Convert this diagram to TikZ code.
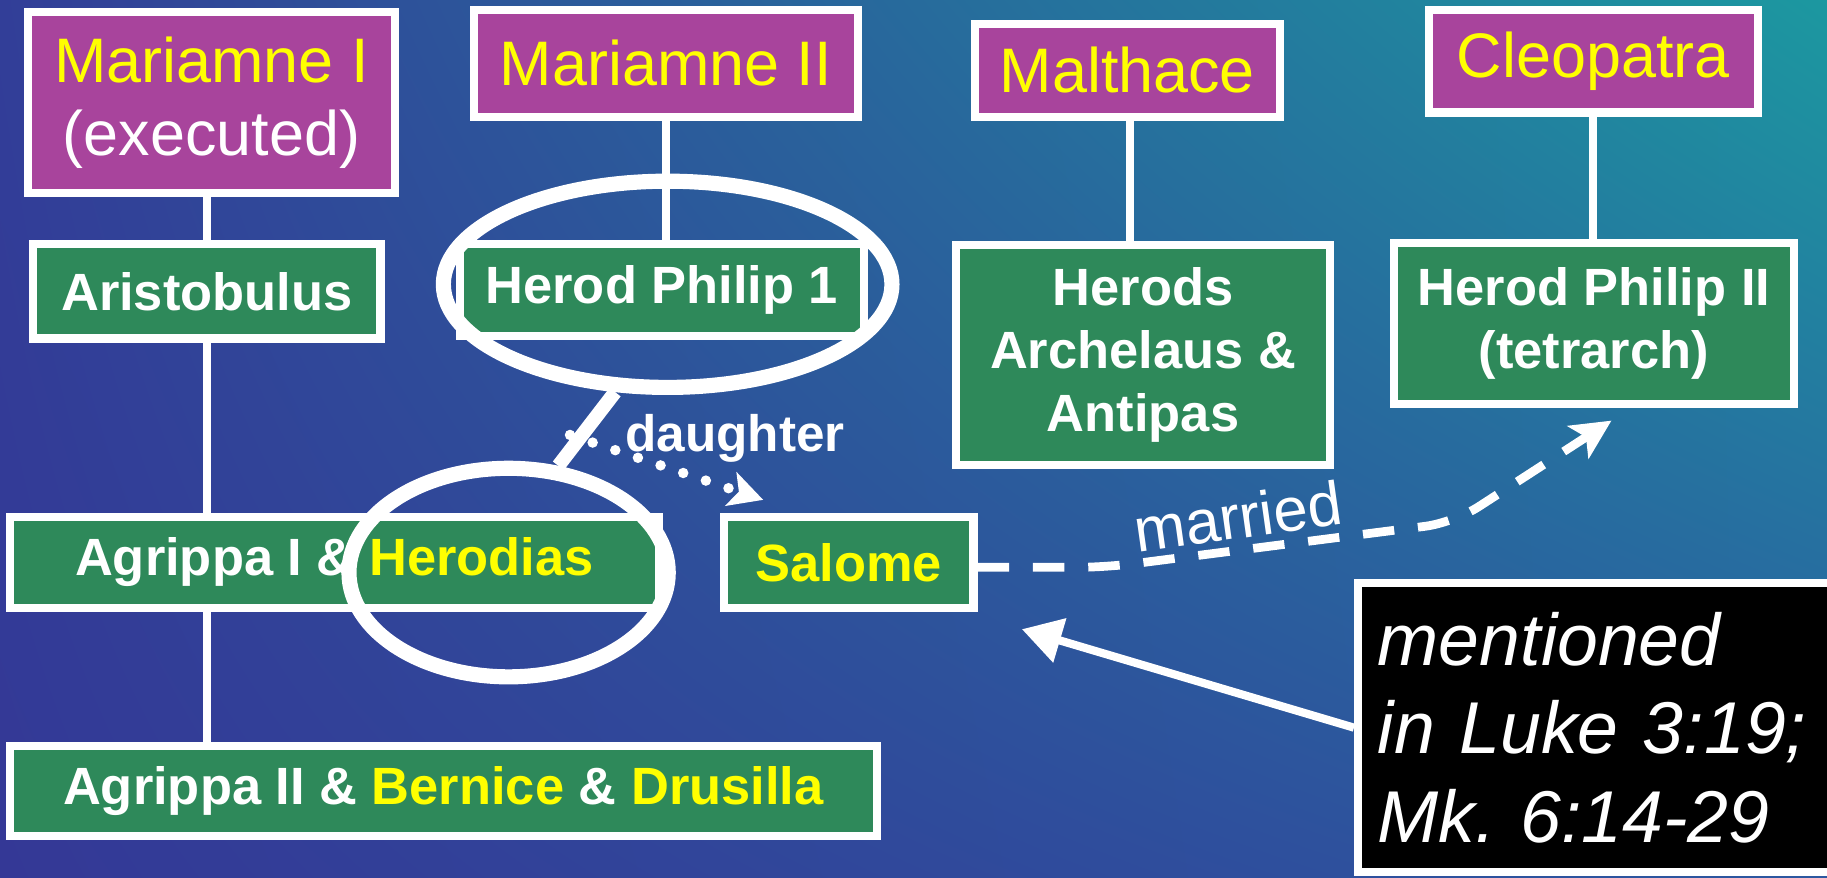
\documentclass[tikz,border=0pt]{standalone}
\usepackage{fontspec}
\setmainfont{Liberation Sans}
\usetikzlibrary{arrows.meta,shapes.geometric,shadings}
\definecolor{bgUL}{RGB}{50,62,152}
\definecolor{bgUR}{RGB}{28,152,160}
\definecolor{bgLL}{RGB}{52,56,150}
\definecolor{bgLR}{RGB}{44,88,160}
\definecolor{magbox}{RGB}{168,68,156}
\definecolor{grnbox}{RGB}{46,137,90}
\definecolor{yel}{RGB}{255,255,0}
\begin{document}
\begin{tikzpicture}[x=1pt,y=1pt,
 wife/.style={draw=white, line width=7pt, fill=magbox, inner sep=0pt, text=yel, align=center, font=\fontsize{54}{63}\selectfont},
 kid/.style={draw=white, line width=7pt, fill=grnbox, inner sep=0pt, text=white, align=center, font=\fontsize{45}{54}\selectfont\bfseries},
 link/.style={white, line width=7pt},
 ring/.style={ellipse, draw=white, line width=13pt, inner sep=0pt},
]
\useasboundingbox (0,0) rectangle (1568,753);
\shade[shading=bilinear interpolation, upper left=bgUL, upper right=bgUR, lower left=bgLL, lower right=bgLR] (0,0) rectangle (1568,753);

% wives
\node[wife, minimum width=315pt, minimum height=155pt] (m1) at (181.5,665) {Mariamne I\\{\color{white}(executed)}};
\node[wife, minimum width=330pt, minimum height=92pt] (m2) at (571.5,698.5) {Mariamne II};
\node[wife, minimum width=262pt, minimum height=80pt] (mal) at (967.5,692.5) {Malthace};
\node[wife, minimum width=282pt, minimum height=88pt] (cleo) at (1367.5,700.5) {Cleopatra};

% children
\node[kid, minimum width=298pt, minimum height=81pt] (arist) at (177.5,503) {Aristobulus};
\node[kid, minimum width=347pt, minimum height=79pt] (hp1) at (568,504) {Herod Philip 1};
\node[kid, minimum width=321pt, minimum height=189pt] (herods) at (981,448.5) {Herods\\Archelaus \&\\Antipas};
\node[kid, minimum width=343pt, minimum height=138pt] (hp2) at (1368,475.5) {Herod Philip II\\(tetrarch)};
\node[kid, minimum width=557pt, minimum height=77.5pt] (ah) at (287,270.25) {Agrippa I \& {\color{yel}Herodias}};
\node[kid, minimum width=214pt, minimum height=77.5pt, text=yel] (sal) at (728.5,270.25) {Salome};
\node[kid, minimum width=744pt, minimum height=77.5pt] (a2) at (380.5,74.25) {Agrippa II \& {\color{yel}Bernice} \& {\color{yel}Drusilla}};

% note box
\node[draw=white, line width=7pt, fill=black, text=white, minimum width=431pt, minimum height=248pt,
      inner xsep=17pt, inner ysep=0pt, text width=397pt, align=left,
      font=\fontsize{63}{76}\selectfont\itshape\frenchspacing] (black) at (1381,128.5) {mentioned\\in Luke 3:19;\\Mk. 6:14-29};

% descent lines
\draw[link] (arist.north |- m1.south) -- (arist.north);
\draw[link] (arist.south) -- (arist.south |- ah.north);
\draw[link] (arist.south |- ah.south) -- (arist.south |- a2.north);
\draw[link] (m2.south) -- (m2.south |- hp1.north);
\draw[link] (970,0 |- mal.south) -- (970,0 |- herods.north);
\draw[link] (cleo.south) -- (cleo.south |- hp2.north);

% rings
\node[ring, minimum width=385pt, minimum height=177pt] (e1) at (573,509) {};
\node[ring, minimum width=274pt, minimum height=179pt] (e2) at (436.5,261.6) {};
\draw[white, line width=12pt] (e1.-116) -- (e2.65);

% daughter
\coordinate (dS) at (489.2,379.7);
\coordinate (dT) at (655,324);
\draw[white, line width=9pt, line cap=round, dash pattern=on 0pt off 20.5pt, -{Stealth[length=29pt,width=30pt,inset=7pt]}] (dS) -- (dT);
\node[anchor=base, text=white, font=\fontsize{44}{44}\selectfont\bfseries, inner sep=0pt] (dl) at (630.8,365.4) {daughter};

% married
\coordinate (mT) at (1383,392);
\draw[white, line width=7.5pt, dash pattern=on 27pt off 20.5pt, rounded corners=25pt, -{Stealth[length=34pt,width=33pt,inset=8pt]}] ([yshift=-4pt]sal.east) -- (948,266) -- (1248,304.5) -- (mT);
\node[rotate=8, anchor=base, text=white, font=\fontsize{53}{53}\selectfont, inner sep=0pt] (ml) at (1065,291) {married};

% mentioned arrow
\coordinate (aT) at (877,213);
\draw[white, line width=7pt, -{Triangle[length=34pt,width=38pt]}] (black.west) -- (aT);
\end{tikzpicture}
\end{document}
